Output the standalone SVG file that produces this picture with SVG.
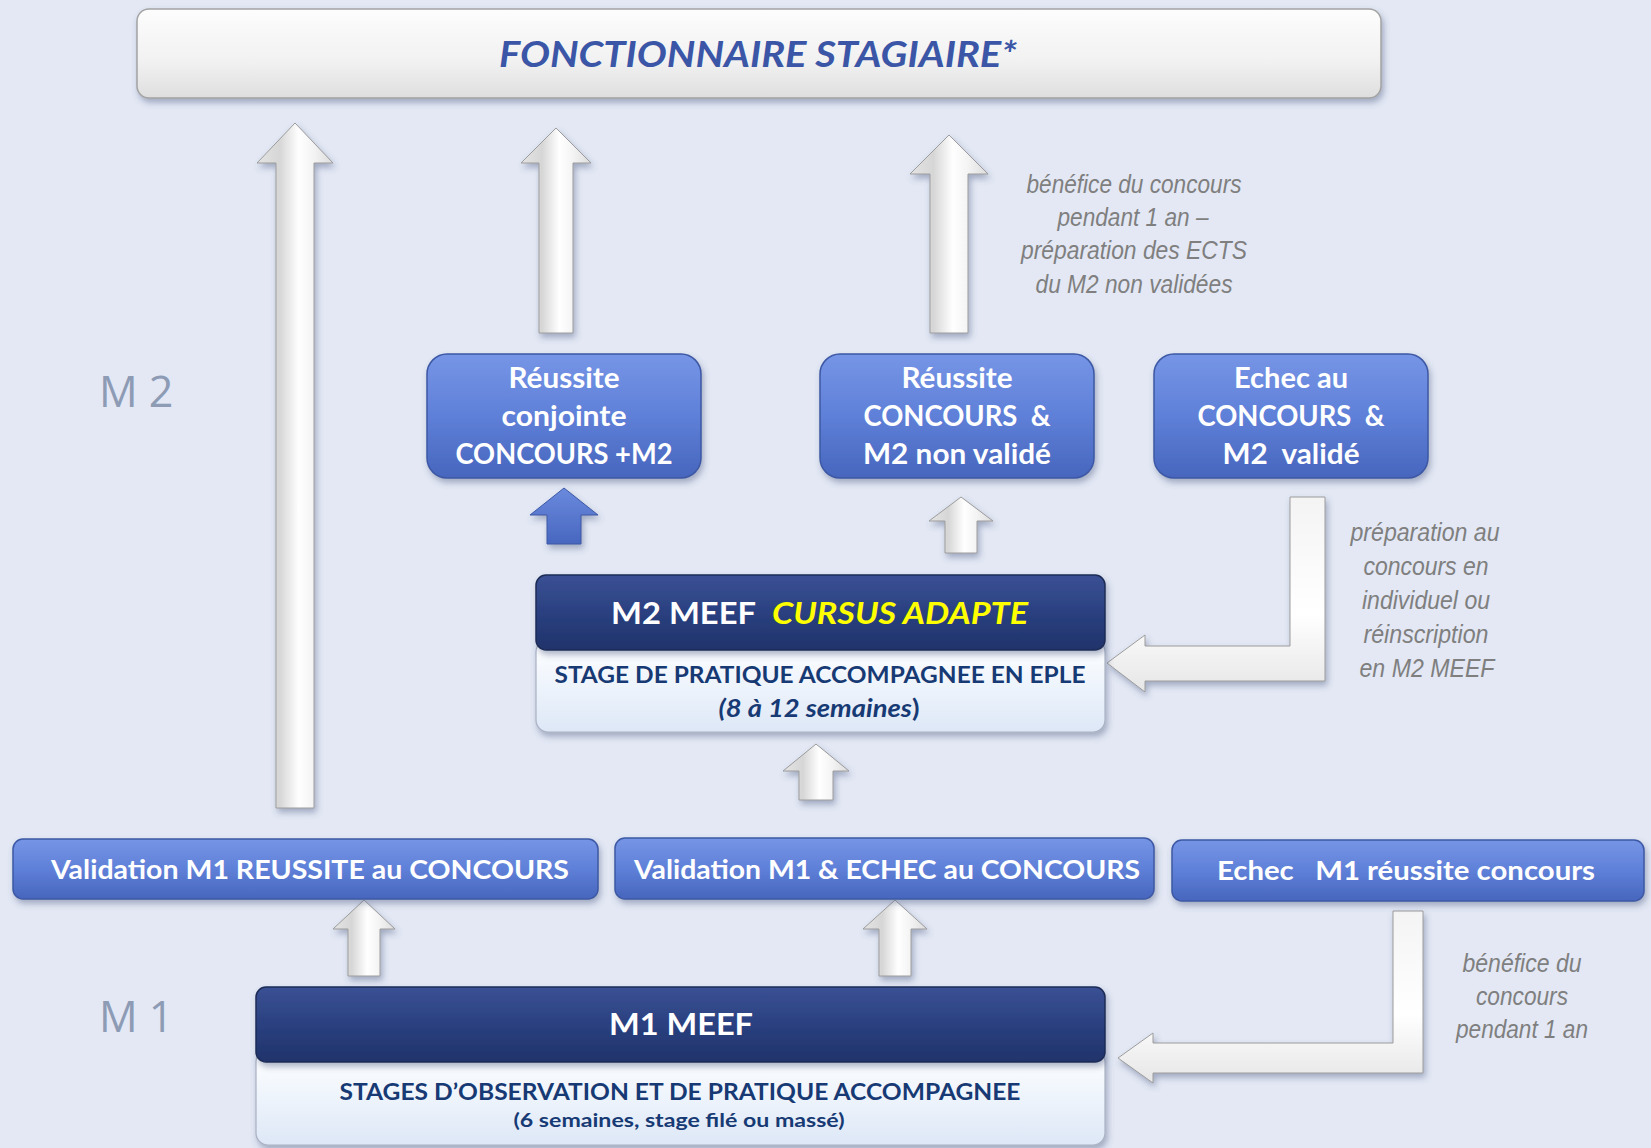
<svg xmlns="http://www.w3.org/2000/svg" width="1651" height="1148" viewBox="0 0 1651 1148">
<defs>
  <linearGradient id="gBlue" x1="0" y1="0" x2="0" y2="1">
    <stop offset="0" stop-color="#7695e6"/>
    <stop offset="0.5" stop-color="#5f80d8"/>
    <stop offset="1" stop-color="#4765bd"/>
  </linearGradient>
  <linearGradient id="gDark" x1="0" y1="0" x2="0" y2="1">
    <stop offset="0" stop-color="#3a5194"/>
    <stop offset="0.5" stop-color="#2a4080"/>
    <stop offset="1" stop-color="#20336a"/>
  </linearGradient>
  <linearGradient id="gLight" x1="0" y1="0" x2="0" y2="1">
    <stop offset="0" stop-color="#ffffff"/>
    <stop offset="0.5" stop-color="#eef4fc"/>
    <stop offset="1" stop-color="#dde7f6"/>
  </linearGradient>
  <linearGradient id="gTitle" x1="0" y1="0" x2="0" y2="1">
    <stop offset="0" stop-color="#fdfdfd"/>
    <stop offset="0.6" stop-color="#f1f1f1"/>
    <stop offset="1" stop-color="#dedede"/>
  </linearGradient>
  <linearGradient id="gArrow" x1="0" y1="0" x2="1" y2="0">
    <stop offset="0" stop-color="#e4e4e4"/>
    <stop offset="0.3" stop-color="#d6d6d6"/>
    <stop offset="0.55" stop-color="#ffffff"/>
    <stop offset="0.75" stop-color="#f3f3f3"/>
    <stop offset="1" stop-color="#dcdcdc"/>
  </linearGradient>
  <linearGradient id="gBent" x1="0" y1="0" x2="0" y2="1">
    <stop offset="0" stop-color="#f4f4f4"/>
    <stop offset="0.6" stop-color="#ffffff"/>
    <stop offset="1" stop-color="#e6e6e6"/>
  </linearGradient>
  <linearGradient id="gBlueArrow" x1="0" y1="0" x2="0" y2="1">
    <stop offset="0" stop-color="#6a8ade"/>
    <stop offset="1" stop-color="#4866bf"/>
  </linearGradient>
  <filter id="sh" x="-10%" y="-10%" width="130%" height="140%">
    <feDropShadow dx="2" dy="4" stdDeviation="3" flood-color="#4f5f85" flood-opacity="0.45"/>
  </filter>
  <style>
    .blue { fill: url(#gBlue); stroke: #3d58a4; stroke-width: 1.5; filter: url(#sh); }
    .dark { fill: url(#gDark); stroke: #1c2b57; stroke-width: 1.5; filter: url(#sh); }
    .light { fill: url(#gLight); stroke: #a9b1c2; stroke-width: 1.2; filter: url(#sh); }
    .arrow { fill: url(#gArrow); stroke: #9c9c9c; stroke-width: 1; filter: url(#sh); }
    .bent { fill: url(#gBent); stroke: #9c9c9c; stroke-width: 1; filter: url(#sh); }
    .bt { font-family: Lato, "Liberation Sans", sans-serif; font-weight: 700; fill: #ffffff; text-anchor: middle; }
    .dt { font-family: Lato, "Liberation Sans", sans-serif; font-weight: 700; fill: #173a74; text-anchor: middle; }
    .ann { font-family: "Liberation Sans", Arial, sans-serif; font-style: italic; fill: #7f7f7f; text-anchor: middle; }
    .lvl { font-family: "Open Sans", "Liberation Sans", sans-serif; font-size: 43px; fill: #8d9bb5; }
  </style>
</defs>

<rect x="0" y="0" width="1651" height="1148" fill="#e3e8f4"/>

<!-- level labels -->
<text class="lvl" x="99" y="407">M 2</text>
<text class="lvl" x="99" y="1032">M 1</text>

<!-- connectors -->
<g id="connectors">
  <polygon class="arrow" points="295,123 333,163 314,163 314,808 276,808 276,163 257,163"/>
  <polygon class="arrow" points="556,128 591,163 573,163 573,333 539,333 539,163 521,163"/>
  <polygon class="arrow" points="949,135 988,174 968,174 968,333 930,333 930,174 910,174"/>
  <polygon points="564,488 598,515 581,515 581,544 547,544 547,515 530,515" fill="url(#gBlueArrow)" stroke="#3d58a4" stroke-width="1" filter="url(#sh)"/>
  <polygon class="arrow" points="961,497 993,521 977,521 977,553 945,553 945,521 929,521"/>
  <polygon class="arrow" points="816,744 849,771 833,771 833,800 799,800 799,771 783,771"/>
  <polygon class="arrow" points="364,900 395,929 380,929 380,976 348,976 348,929 333,929"/>
  <polygon class="arrow" points="895,900 927,929 911,929 911,976 879,976 879,929 863,929"/>
  <polygon class="bent" points="1107,663 1145,635 1145,646 1290,646 1290,497 1325,497 1325,681 1145,681 1145,692"/>
  <polygon class="bent" points="1118,1058 1153,1033 1153,1043 1393,1043 1393,911 1423,911 1423,1073 1153,1073 1153,1083"/>
</g>

<!-- title -->
<g id="title">
  <rect x="137" y="9" width="1244" height="89" rx="12" fill="url(#gTitle)" stroke="#a3a3a3" stroke-width="1.5" filter="url(#sh)"/>
  <text x="758" y="67" font-family="Lato, 'Liberation Sans', sans-serif" font-weight="700" font-style="italic" font-size="36" fill="#3b56a6" text-anchor="middle" textLength="518" lengthAdjust="spacingAndGlyphs">FONCTIONNAIRE STAGIAIRE*</text>
</g>

<!-- annotations -->
<g id="note-top" class="ann" font-size="25">
  <text x="1134" y="193" textLength="215" lengthAdjust="spacingAndGlyphs">bénéfice du concours</text>
  <text x="1133" y="226" textLength="151" lengthAdjust="spacingAndGlyphs">pendant 1 an –</text>
  <text x="1134" y="259" textLength="226" lengthAdjust="spacingAndGlyphs">préparation des ECTS</text>
  <text x="1134" y="293" textLength="197" lengthAdjust="spacingAndGlyphs">du M2 non validées</text>
</g>
<g id="note-m2" class="ann" font-size="26">
  <text x="1425" y="541" textLength="149" lengthAdjust="spacingAndGlyphs">préparation au</text>
  <text x="1426" y="575" textLength="125" lengthAdjust="spacingAndGlyphs">concours en</text>
  <text x="1426" y="609" textLength="128" lengthAdjust="spacingAndGlyphs">individuel ou</text>
  <text x="1426" y="643" textLength="125" lengthAdjust="spacingAndGlyphs">réinscription</text>
  <text x="1427" y="677" textLength="135" lengthAdjust="spacingAndGlyphs">en M2 MEEF</text>
</g>
<g id="note-m1" class="ann" font-size="26">
  <text x="1522" y="972" textLength="119" lengthAdjust="spacingAndGlyphs">bénéfice du</text>
  <text x="1522" y="1005" textLength="92" lengthAdjust="spacingAndGlyphs">concours</text>
  <text x="1522" y="1038" textLength="132" lengthAdjust="spacingAndGlyphs">pendant 1 an</text>
</g>

<!-- M2 outcome boxes -->
<g id="reussite-conjointe">
  <rect class="blue" x="427" y="354" width="274" height="124" rx="20"/>
  <text class="bt" font-size="28" x="564" y="388" textLength="111" lengthAdjust="spacingAndGlyphs">Réussite</text>
  <text class="bt" font-size="28" x="564" y="426" textLength="125" lengthAdjust="spacingAndGlyphs">conjointe</text>
  <text class="bt" font-size="28" x="564" y="464" textLength="217" lengthAdjust="spacingAndGlyphs">CONCOURS +M2</text>
</g>
<g id="reussite-concours-m2-non-valide">
  <rect class="blue" x="820" y="354" width="274" height="124" rx="20"/>
  <text class="bt" font-size="28" x="957" y="388" textLength="111" lengthAdjust="spacingAndGlyphs">Réussite</text>
  <text class="bt" font-size="28" x="957" y="426" textLength="187" lengthAdjust="spacingAndGlyphs" xml:space="preserve">CONCOURS  &amp;</text>
  <text class="bt" font-size="28" x="957" y="464" textLength="188" lengthAdjust="spacingAndGlyphs">M2 non validé</text>
</g>
<g id="echec-concours-m2-valide">
  <rect class="blue" x="1154" y="354" width="274" height="124" rx="20"/>
  <text class="bt" font-size="28" x="1291" y="388" textLength="114" lengthAdjust="spacingAndGlyphs">Echec au</text>
  <text class="bt" font-size="28" x="1291" y="426" textLength="187" lengthAdjust="spacingAndGlyphs" xml:space="preserve">CONCOURS  &amp;</text>
  <text class="bt" font-size="28" x="1291" y="464" textLength="137" lengthAdjust="spacingAndGlyphs" xml:space="preserve">M2  validé</text>
</g>

<!-- M2 MEEF cursus adapte -->
<g id="m2-meef">
  <rect class="light" x="536" y="640" width="569" height="92" rx="12"/>
  <rect class="dark" x="536" y="575" width="569" height="75" rx="10"/>
  <text font-family="Lato, 'Liberation Sans', sans-serif" font-weight="700" font-size="31" y="624" x="611" textLength="145" lengthAdjust="spacingAndGlyphs" fill="#ffffff">M2 MEEF</text>
  <text font-family="Lato, 'Liberation Sans', sans-serif" font-weight="700" font-style="italic" font-size="31" y="624" x="772" textLength="256" lengthAdjust="spacingAndGlyphs" fill="#ffff00">CURSUS ADAPTE</text>
  <text class="dt" font-size="22" x="820" y="683" textLength="531" lengthAdjust="spacingAndGlyphs">STAGE DE PRATIQUE ACCOMPAGNEE EN EPLE</text>
  <text class="dt" font-size="25" x="819" y="717" textLength="201" lengthAdjust="spacingAndGlyphs"><tspan font-style="italic">(8 à 12 semaines</tspan>)</text>
</g>

<!-- M1 outcome boxes -->
<g id="validation-m1-reussite">
  <rect class="blue" x="13" y="839" width="585" height="60" rx="10"/>
  <text class="bt" font-size="26" x="310" y="879" textLength="518" lengthAdjust="spacingAndGlyphs">Validation M1 REUSSITE au CONCOURS</text>
</g>
<g id="validation-m1-echec">
  <rect class="blue" x="615" y="838" width="539" height="61" rx="10"/>
  <text class="bt" font-size="26" x="887" y="879" textLength="506" lengthAdjust="spacingAndGlyphs">Validation M1 &amp; ECHEC au CONCOURS</text>
</g>
<g id="echec-m1-reussite">
  <rect class="blue" x="1172" y="840" width="472" height="61" rx="10"/>
  <text class="bt" font-size="26" x="1406" y="880" textLength="378" lengthAdjust="spacingAndGlyphs" xml:space="preserve">Echec   M1 réussite concours</text>
</g>

<!-- M1 MEEF -->
<g id="m1-meef">
  <rect class="light" x="256" y="1050" width="849" height="95" rx="12"/>
  <rect class="dark" x="256" y="987" width="849" height="75" rx="10"/>
  <text class="bt" font-size="30" x="681" y="1035" textLength="144" lengthAdjust="spacingAndGlyphs">M1 MEEF</text>
  <text class="dt" font-size="22" x="680" y="1100" textLength="681" lengthAdjust="spacingAndGlyphs">STAGES D’OBSERVATION ET DE PRATIQUE ACCOMPAGNEE</text>
  <text class="dt" font-size="19" x="679" y="1127" textLength="331" lengthAdjust="spacingAndGlyphs">(6 semaines, stage filé ou massé)</text>
</g>
</svg>
